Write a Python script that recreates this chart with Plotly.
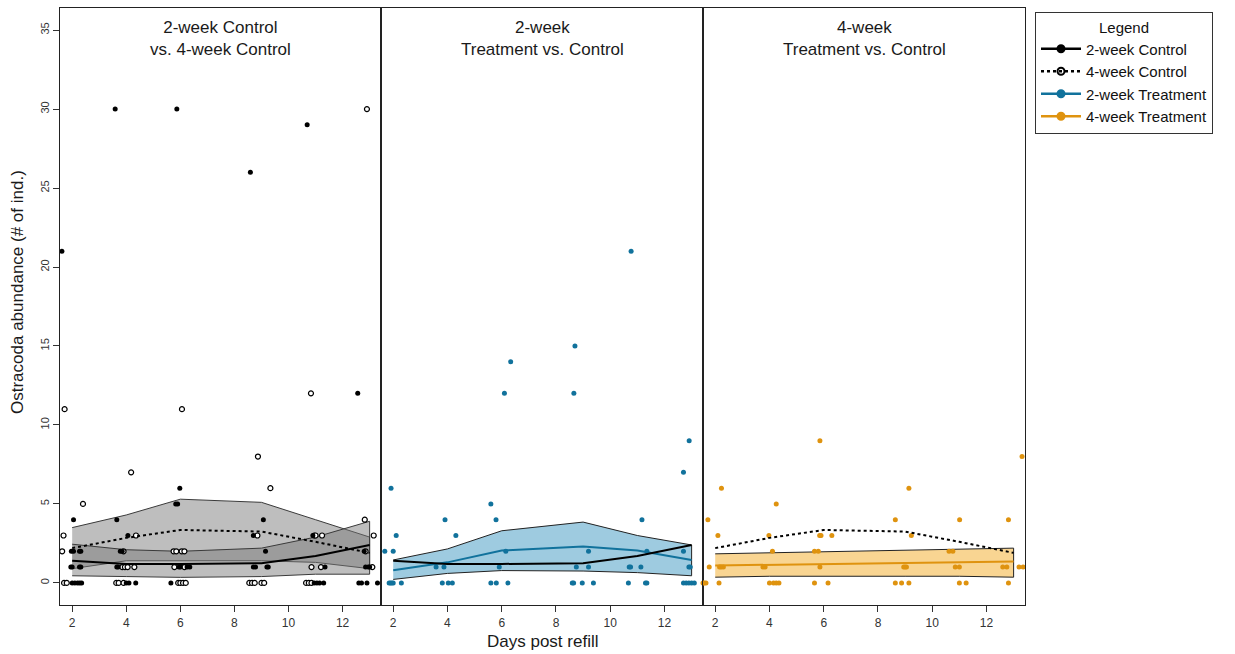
import plotly.graph_objects as go

# ---------------- data ----------------
panel_titles = ["2-week Control<br>vs. 4-week Control",
                "2-week<br>Treatment vs. Control",
                "4-week<br>Treatment vs. Control"]
x_ticks = [2, 4, 6, 8, 10, 12]
y_ticks = [0, 5, 10, 15, 20, 25, 30, 35]

# Panel 1: 2-week Control (filled) raw points (jittered days, abundance)
c2_x = [1.62, 2.05, 1.97, 2.05, 2.27, 2.32, 1.95, 2.0, 2.27, 2.32, 2.0, 2.1, 2.2, 2.28, 2.35,
        3.59, 3.65, 3.65, 3.7, 3.78, 3.85, 4.06, 4.0, 4.1, 4.35,
        5.87, 5.98, 5.83, 5.9, 5.95, 6.0, 6.25, 6.35, 5.65,
        8.59, 9.07, 9.15, 8.7, 8.7, 8.78, 9.2, 9.25,
        10.69, 10.9, 11.35, 10.95, 11.05, 11.15, 11.3,
        12.56, 12.8, 12.85, 12.95, 13.0, 12.6, 12.7, 12.9, 13.29]
c2_y = [21, 4, 2, 2, 2, 2, 1, 1, 1, 1, 0, 0, 0, 0, 0,
        30, 4, 1, 1, 2, 2, 3, 0, 0, 0,
        30, 6, 5, 5, 1, 1, 1, 1, 0,
        26, 4, 2, 3, 1, 1, 1, 1,
        29, 3, 1, 0, 0, 0, 0,
        12, 2, 1, 1, 1, 0, 0, 0, 0]
# Panel 1: 4-week Control (open) raw points
c4_x = [1.63, 1.68, 1.72, 1.7, 1.8, 2.4,
        4.18, 4.36, 3.85, 3.95, 4.05, 4.3, 3.9, 3.63, 3.72, 3.9,
        6.06, 5.75, 5.85, 6.05, 6.15, 5.78, 6.15, 5.92, 6.0, 6.1, 6.2,
        8.87, 9.33, 8.85, 8.55, 8.65, 8.75, 9.0, 9.1,
        10.83, 10.95, 11.0, 11.24, 10.85, 11.2, 10.65, 10.75, 10.85,
        12.9, 12.82, 12.85, 13.15, 13.1]
c4_y = [2, 3, 11, 0, 0, 5,
        7, 3, 1, 1, 1, 1, 2, 0, 0, 0,
        11, 2, 2, 2, 2, 1, 1, 0, 0, 0, 0,
        8, 6, 3, 0, 0, 0, 0, 0,
        12, 3, 3, 3, 1, 1, 0, 0, 0,
        30, 4, 2, 3, 1]
# Panel 2: 2-week Treatment raw points
t2_x = [8.7, 6.33, 6.1, 8.66, 10.77, 12.91, 12.7, 1.92, 5.6, 3.91, 5.79, 11.17, 2.11, 4.31,
        1.69, 2.0, 6.15, 9.2, 11.35, 12.7,
        3.58, 3.87, 5.91, 8.75, 9.2, 10.7, 10.75, 11.13, 12.9, 12.95,
        1.85, 1.9, 1.95, 2.0, 2.3, 3.81, 4.03, 4.18, 5.6, 5.8, 6.23, 8.6, 8.65, 8.97, 9.38,
        10.67, 11.3, 11.35, 12.7, 12.8, 12.9, 13.0, 13.1]
t2_y = [15, 14, 12, 12, 21, 9, 7, 6, 5, 4, 4, 4, 3, 3,
        2, 2, 2, 2, 2, 2,
        1, 1, 1, 1, 1, 1, 1, 1, 1, 1,
        0, 0, 0, 0, 0, 0, 0, 0, 0, 0, 0, 0, 0, 0, 0,
        0, 0, 0, 0, 0, 0, 0, 0]
# Panel 3: 4-week Treatment raw points
t4_x = [5.86, 13.31, 2.23, 9.14, 4.25, 1.73, 8.64, 11.01, 12.81,
        2.1, 3.98, 5.85, 5.9, 6.3, 9.23,
        4.11, 5.66, 5.8, 10.62, 10.76,
        1.78, 2.16, 2.22, 2.3, 3.76, 3.84, 5.86, 8.95, 9.0, 9.05, 10.85, 11.0, 12.6, 12.75, 13.2, 13.35,
        1.55, 1.6, 1.66, 2.14, 4.0, 4.15, 4.25, 4.35, 5.66, 6.16, 8.64, 8.87, 9.14, 11.0, 11.25, 12.81]
t4_y = [9, 8, 6, 6, 5, 4, 4, 4, 4,
        3, 3, 3, 3, 3, 3,
        2, 2, 2, 2, 2,
        1, 1, 1, 1, 1, 1, 1, 1, 1, 1, 1, 1, 1, 1, 1, 1,
        0, 0, 0, 0, 0, 0, 0, 0, 0, 0, 0, 0, 0, 0, 0, 0]

# model fits (mean and confidence bands) at sampling days
fit_days = [2, 4, 6, 9, 11, 13]
c2_fit = [1.4, 1.2, 1.2, 1.25, 1.7, 2.4]
c2_lo = [0.45, 0.4, 0.35, 0.4, 0.55, 0.55]
c2_hi = [2.45, 2.1, 2.0, 2.2, 2.9, 3.9]
c4_fit = [2.2, 2.85, 3.35, 3.25, 2.6, 1.9]
c4_lo = [0.9, 1.4, 1.4, 1.4, 1.3, 0.9]
c4_hi = [3.5, 4.3, 5.3, 5.1, 4.0, 2.9]
t2_fit = [0.8, 1.3, 2.05, 2.3, 2.05, 1.45]
t2_lo = [0.22, 0.6, 0.78, 0.75, 0.65, 0.45]
t2_hi = [1.45, 2.15, 3.3, 3.85, 3.0, 2.4]
t4_fit = [1.1, 1.15, 1.2, 1.25, 1.3, 1.35]
t4_lo = [0.36, 0.42, 0.42, 0.42, 0.42, 0.36]
t4_hi = [1.84, 1.9, 1.97, 2.05, 2.15, 2.2]

# ---------------- styling ----------------
W, H = 1235, 654
FONT = "Arial, Liberation Sans, sans-serif"
BLUE = "#11729C"
ORANGE = "#DF930F"
BLUE_FILL = "rgb(158,203,224)"
ORANGE_FILL = "rgb(249,213,146)"
GREY_FILL = "rgba(120,120,120,0.48)"

px_left, px_right = 60, 1025
px_top, px_bottom = 8, 605
bounds = [60, 381, 703, 1025]
ydom = [(H - px_bottom) / H, (H - px_top) / H]

fig = go.Figure()


def ax(i):
    return ("x" if i == 0 else f"x{i+1}"), ("y" if i == 0 else f"y{i+1}")


def ribbon(i, lo, hi, fill, edge):
    xa, ya = ax(i)
    fig.add_trace(go.Scatter(x=fit_days + fit_days[::-1], y=hi + lo[::-1], fill="toself",
                             fillcolor=fill, line=dict(color=edge, width=1), mode="lines",
                             xaxis=xa, yaxis=ya, showlegend=False, hoverinfo="skip"))


def line(i, y, color, dash="solid", width=2):
    xa, ya = ax(i)
    fig.add_trace(go.Scatter(x=fit_days, y=y, mode="lines", line=dict(color=color, width=width, dash=dash),
                             xaxis=xa, yaxis=ya, showlegend=False, hoverinfo="skip"))


def points(i, x, y, color, open_=False):
    xa, ya = ax(i)
    if open_:
        m = dict(size=5, color="white", line=dict(color="black", width=1.2), symbol="circle")
    else:
        m = dict(size=5, color=color, line=dict(width=0), symbol="circle")
    fig.add_trace(go.Scatter(x=x, y=y, mode="markers", marker=m, xaxis=xa, yaxis=ya,
                             showlegend=False, cliponaxis=False))


# Panel 1
ribbon(0, c4_lo, c4_hi, GREY_FILL, "#3a3a3a")
ribbon(0, c2_lo, c2_hi, GREY_FILL, "#3a3a3a")
points(0, c4_x, c4_y, "black", open_=True)
points(0, c2_x, c2_y, "black")
line(0, c4_fit, "black", dash="dot")
line(0, c2_fit, "black")

# Panel 2
ribbon(1, t2_lo, t2_hi, BLUE_FILL, "#222222")
points(1, t2_x, t2_y, BLUE)
line(1, t2_fit, BLUE)
line(1, c2_fit, "black")

# Panel 3
ribbon(2, t4_lo, t4_hi, ORANGE_FILL, "#222222")
points(2, t4_x, t4_y, ORANGE)
line(2, t4_fit, ORANGE)
line(2, c4_fit, "black", dash="dot")

# Legend entries
leg = [("2-week Control", "black", "solid", "circle", "black"),
       ("4-week Control", "black", "dot", "circle-open", "black"),
       ("2-week Treatment", BLUE, "solid", "circle", BLUE),
       ("4-week Treatment", ORANGE, "solid", "circle", ORANGE)]
for name, col, dash, sym, mcol in leg:
    fig.add_trace(go.Scatter(x=[None], y=[None], mode="lines+markers", name=name,
                             line=dict(color=col, width=2.5, dash=dash),
                             marker=dict(symbol=sym, size=7, color=mcol, line=dict(color=mcol, width=2))))

layout = dict(
    width=W, height=H, margin=dict(l=0, r=0, t=0, b=0),
    plot_bgcolor="white", paper_bgcolor="white",
    font=dict(family=FONT, color="#222222"),
    legend=dict(x=1035 / W, y=(H - 12) / H, xanchor="left", yanchor="top",
                bordercolor="#333333", borderwidth=1, bgcolor="white",
                font=dict(size=15, family=FONT, color="#111111"),
                title=dict(text="Legend", side="top center", font=dict(size=15, family=FONT)),
                itemwidth=40, tracegroupgap=0),
)
for i in range(3):
    xa, ya = ax(i)
    xk = "xaxis" if i == 0 else f"xaxis{i+1}"
    yk = "yaxis" if i == 0 else f"yaxis{i+1}"
    layout[xk] = dict(domain=[bounds[i] / W, bounds[i + 1] / W], range=[1.55, 13.42],
                      anchor=ya, tickvals=x_ticks, ticktext=[str(v) for v in x_ticks],
                      ticks="outside", ticklen=6, tickcolor="#333", showgrid=False, zeroline=False,
                      showline=True, mirror=True, linecolor="#222", linewidth=1.2,
                      tickfont=dict(size=12, family=FONT, color="#333"))
    layout[yk] = dict(domain=ydom, range=[-1.4, 36.4], anchor=xa, showgrid=False, zeroline=False,
                      showline=True, mirror=True, linecolor="#222", linewidth=1.2,
                      tickvals=y_ticks if i == 0 else [], ticks="outside" if i == 0 else "",
                      ticklen=6, tickcolor="#333", tickangle=-90,
                      tickfont=dict(size=11, family=FONT, color="#333"),
                      showticklabels=(i == 0))
fig.update_layout(**layout)

# panel titles
for i, t in enumerate(panel_titles):
    fig.add_annotation(x=(bounds[i] + bounds[i + 1]) / 2 / W, y=(H - 16) / H, xref="paper", yref="paper",
                       text=t, showarrow=False, xanchor="center", yanchor="top",
                       font=dict(size=17, family=FONT, color="#1a1a1a"))
# axis titles
fig.add_annotation(x=(px_left + px_right) / 2 / W, y=(H - 641) / H, xref="paper", yref="paper",
                   text="Days post refill", showarrow=False, xanchor="center", yanchor="middle",
                   font=dict(size=17, family=FONT, color="#1a1a1a"))
fig.add_annotation(x=18 / W, y=(H - 292) / H, xref="paper", yref="paper",
                   text="Ostracoda abundance (# of ind.)", showarrow=False, textangle=-90,
                   xanchor="center", yanchor="middle",
                   font=dict(size=17, family=FONT, color="#1a1a1a"))

fig.write_html("out.html", config={"displayModeBar": False},
               post_script="document.body.style.margin='0';document.body.style.overflow='hidden';")
